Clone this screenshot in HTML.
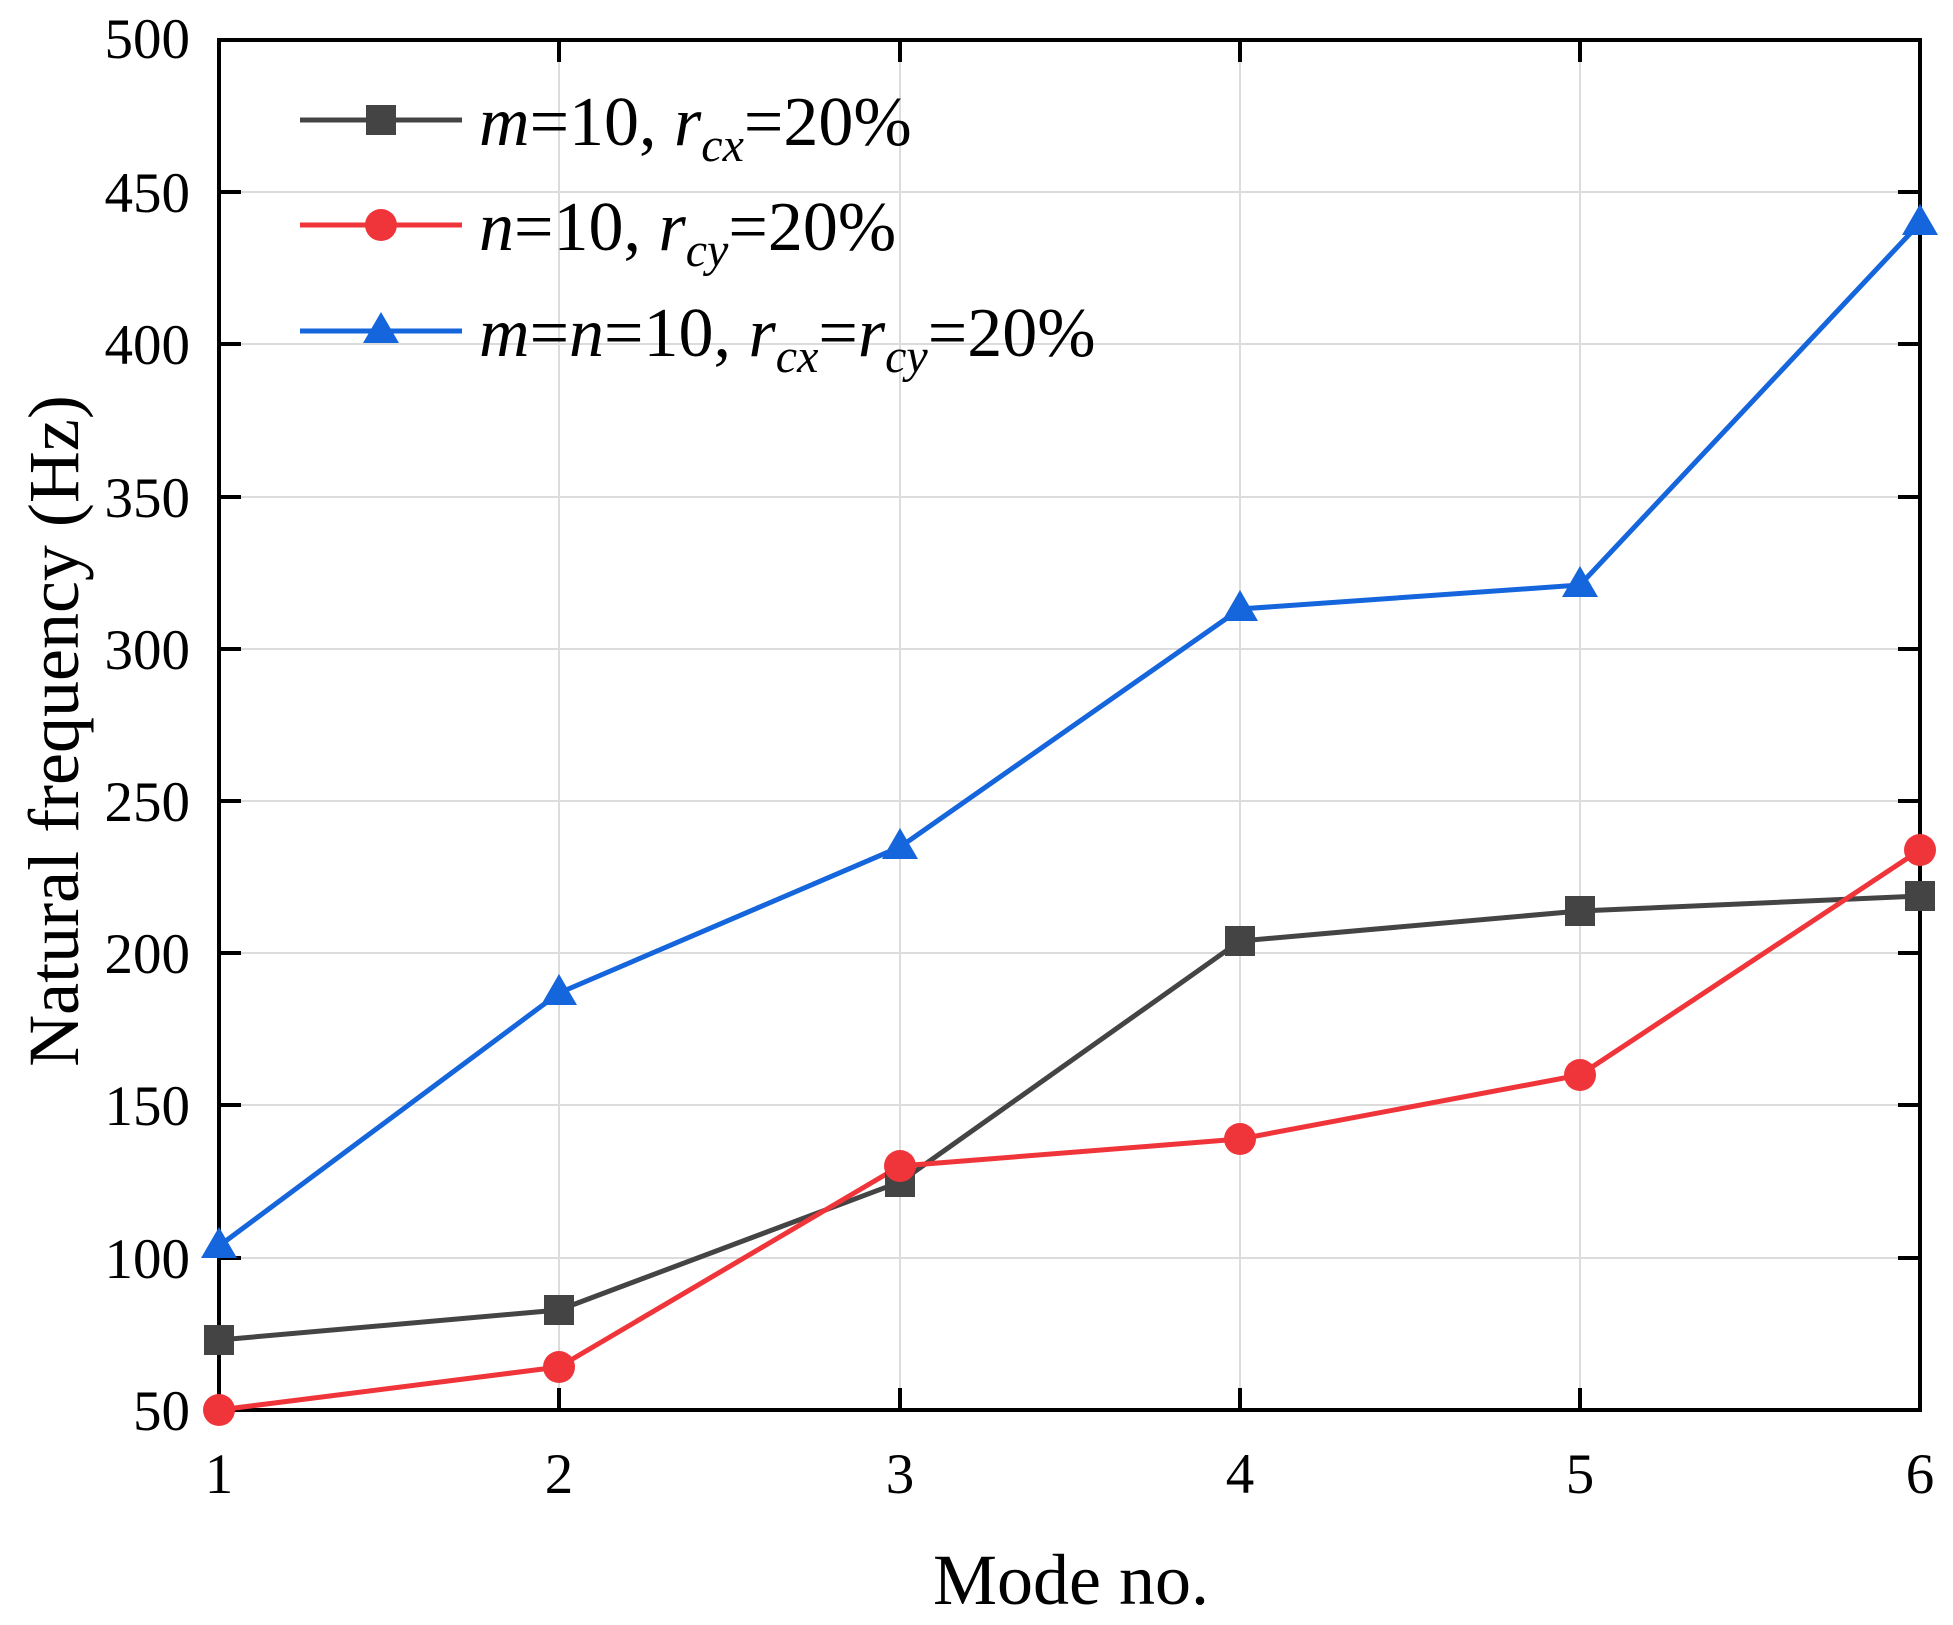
<!DOCTYPE html>
<html><head><meta charset="utf-8"><style>body{margin:0;background:#fff} text{font-family:"Liberation Serif",serif}</style></head><body>
<svg width="1953" height="1620" xmlns="http://www.w3.org/2000/svg">
<rect width="1953" height="1620" fill="#fff"/>
<g stroke="#dcdcdc" stroke-width="2">
<line x1="559" y1="40" x2="559" y2="1410"/><line x1="900" y1="40" x2="900" y2="1410"/><line x1="1240" y1="40" x2="1240" y2="1410"/><line x1="1580" y1="40" x2="1580" y2="1410"/>
<line x1="219" y1="192" x2="1920" y2="192"/><line x1="219" y1="344" x2="1920" y2="344"/><line x1="219" y1="497" x2="1920" y2="497"/><line x1="219" y1="649" x2="1920" y2="649"/><line x1="219" y1="801" x2="1920" y2="801"/><line x1="219" y1="953" x2="1920" y2="953"/><line x1="219" y1="1105" x2="1920" y2="1105"/><line x1="219" y1="1258" x2="1920" y2="1258"/>
</g>
<g stroke="#000" stroke-width="4">
<rect x="219" y="40" width="1701" height="1370" fill="none"/>
<path d="M219 192h22M219 344h22M219 497h22M219 649h22M219 801h22M219 953h22M219 1105h22M219 1258h22M1920 192h-22M1920 344h-22M1920 497h-22M1920 649h-22M1920 801h-22M1920 953h-22M1920 1105h-22M1920 1258h-22M559 1410v-22M900 1410v-22M1240 1410v-22M1580 1410v-22M559 40v22M900 40v22M1240 40v22M1580 40v22"/>
</g>
<g font-size="57" text-anchor="end" fill="#000">
<text x="190" y="58">500</text><text x="190" y="212">450</text><text x="190" y="364">400</text><text x="190" y="517">350</text><text x="190" y="669">300</text><text x="190" y="821">250</text><text x="190" y="973">200</text><text x="190" y="1125">150</text><text x="190" y="1278">100</text><text x="190" y="1430">50</text>
</g>
<g font-size="57" text-anchor="middle">
<text x="219" y="1493">1</text><text x="559" y="1493">2</text><text x="900" y="1493">3</text><text x="1240" y="1493">4</text><text x="1580" y="1493">5</text><text x="1920" y="1493">6</text>
</g>
<text x="1071" y="1604" font-size="72" text-anchor="middle">Mode no.</text>
<text transform="translate(78,731) rotate(-90)" font-size="72" text-anchor="middle">Natural frequency (Hz)</text>
<polyline fill="none" stroke="#444" stroke-width="5" points="219,1340 559,1310 900,1182 1240,941 1580,911 1920,896"/>
<polyline fill="none" stroke="#f0353a" stroke-width="5" points="219,1410 559,1367 900,1166 1240,1139 1580,1075 1920,850"/>
<polyline fill="none" stroke="#1565dc" stroke-width="5" points="219,1246 559,993 900,847 1240,609 1580,585 1920,223"/>
<g fill="#444"><rect x="204" y="1325" width="30" height="30"/><rect x="544" y="1295" width="30" height="30"/><rect x="885" y="1167" width="30" height="30"/><rect x="1225" y="926" width="30" height="30"/><rect x="1565" y="896" width="30" height="30"/><rect x="1905" y="881" width="30" height="30"/></g>
<g fill="#f0353a"><circle cx="219" cy="1410" r="16"/><circle cx="559" cy="1367" r="16"/><circle cx="900" cy="1166" r="16"/><circle cx="1240" cy="1139" r="16"/><circle cx="1580" cy="1075" r="16"/><circle cx="1920" cy="850" r="16"/></g>
<g fill="#1565dc"><path d="M219 1227l18 31h-36z"/><path d="M559 974l18 31h-36z"/><path d="M900 828l18 31h-36z"/><path d="M1240 590l18 31h-36z"/><path d="M1580 566l18 31h-36z"/><path d="M1920 204l18 31h-36z"/></g>
<line x1="300" y1="120" x2="462" y2="120" stroke="#444" stroke-width="5"/><rect x="366" y="105" width="30" height="30" fill="#444"/>
<line x1="300" y1="225" x2="462" y2="225" stroke="#f0353a" stroke-width="5"/><circle cx="381" cy="225" r="16" fill="#f0353a"/>
<line x1="300" y1="331" x2="462" y2="331" stroke="#1565dc" stroke-width="5"/><path d="M381 312l18 31h-36z" fill="#1565dc"/>
<g font-size="70">
<text x="479" y="145"><tspan font-style="italic">m</tspan>=10, <tspan font-style="italic">r</tspan><tspan font-style="italic" font-size="48" dy="16">cx</tspan><tspan dy="-16">=20%</tspan></text>
<text x="479" y="250"><tspan font-style="italic">n</tspan>=10, <tspan font-style="italic">r</tspan><tspan font-style="italic" font-size="48" dy="16">cy</tspan><tspan dy="-16">=20%</tspan></text>
<text x="479" y="356"><tspan font-style="italic">m</tspan>=<tspan font-style="italic">n</tspan>=10, <tspan font-style="italic">r</tspan><tspan font-style="italic" font-size="48" dy="16">cx</tspan><tspan dy="-16">=</tspan><tspan font-style="italic">r</tspan><tspan font-style="italic" font-size="48" dy="16">cy</tspan><tspan dy="-16">=20%</tspan></text>
</g>
</svg>
</body></html>
